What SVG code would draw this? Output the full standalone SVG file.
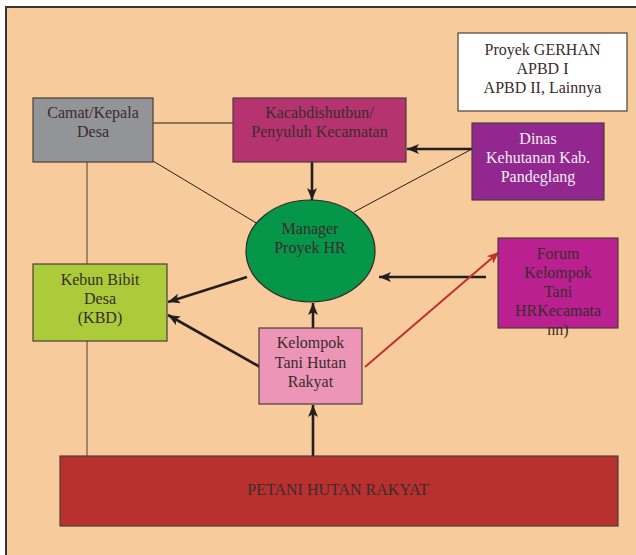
<svg xmlns="http://www.w3.org/2000/svg" width="636" height="555" viewBox="0 0 636 555">
<defs>
<marker id="ah" markerUnits="userSpaceOnUse" markerWidth="13" markerHeight="10" refX="12" refY="5" orient="auto">
<path d="M0,0 L12,5 L0,10 L3,5 z" fill="#231f20"/>
</marker>
<marker id="ahr" markerUnits="userSpaceOnUse" markerWidth="13" markerHeight="10" refX="12" refY="5" orient="auto">
<path d="M0,0 L12,5 L0,10 L3,5 z" fill="#c0302e"/>
</marker>
<style>
.box{stroke:#4a3f3a;stroke-width:1.2}
text{font-family:"Liberation Serif","Times New Roman",serif;font-size:16px;fill:#3a2c2c;text-anchor:middle}
.w{fill:#f4ecf3}
.thin{stroke:#231f20;stroke-width:1;fill:none}
.brown{stroke:#8a6f55;stroke-width:1.5;fill:none}
.thick{stroke:#231f20;stroke-width:2.6;fill:none;marker-end:url(#ah)}
.red{stroke:#c0302e;stroke-width:2;fill:none;marker-end:url(#ahr)}
</style>
</defs>
<rect x="0" y="0" width="636" height="555" fill="#ffffff"/>
<rect x="6" y="7" width="632" height="550" fill="#f8cb9c"/>
<path d="M6,555 L6,7 L636,7" fill="none" stroke="#3a3533" stroke-width="2"/>

<g id="connectors">
<line class="thin" x1="153" y1="123" x2="233" y2="123"/>
<line class="brown" x1="87" y1="162" x2="87" y2="264"/>
<line class="brown" x1="87" y1="341" x2="87" y2="456"/>
<line class="thin" x1="153" y1="161" x2="258" y2="224"/>
<line class="thin" x1="472" y1="149" x2="354" y2="212"/>
<line class="thick" x1="312" y1="162" x2="312" y2="200"/>
<line class="thick" x1="472" y1="149" x2="407" y2="149"/>
<line class="thick" x1="486" y1="277" x2="379" y2="277"/>
<line class="thick" x1="247" y1="277" x2="168" y2="302"/>
<line class="thick" x1="260" y1="367" x2="168" y2="315"/>
<line class="thick" x1="313" y1="328" x2="313" y2="303"/>
<line class="thick" x1="313" y1="456" x2="313" y2="405"/>
<line class="red" x1="365" y1="367" x2="499" y2="252"/>
</g>

<g id="gerhan">
<rect class="box" x="458" y="33" width="169" height="78" fill="#ffffff"/>
<text x="542.5" y="55">Proyek GERHAN</text>
<text x="542.5" y="74">APBD I</text>
<text x="542.5" y="93">APBD II, Lainnya</text>
</g>

<g id="camat">
<rect class="box" x="33" y="98" width="120" height="64" fill="#929497"/>
<text x="93" y="118">Camat/Kepala</text>
<text x="93" y="137">Desa</text>
</g>

<g id="kacab">
<rect class="box" x="233" y="98" width="173" height="64" fill="#b5346f"/>
<text x="319.5" y="118">Kacabdishutbun/</text>
<text x="319.5" y="137">Penyuluh Kecamatan</text>
</g>

<g id="dinas">
<rect class="box" x="472" y="123" width="132" height="77" fill="#92278f"/>
<text class="w" x="538" y="144">Dinas</text>
<text class="w" x="538" y="163">Kehutanan Kab.</text>
<text class="w" x="538" y="182">Pandeglang</text>
</g>

<g id="manager">
<ellipse cx="310.5" cy="251" rx="64.5" ry="51" fill="#05964a" stroke="#2e2a28" stroke-width="1.2"/>
<text x="310" y="234">Manager</text>
<text x="310" y="253">Proyek HR</text>
</g>

<g id="forum">
<rect class="box" x="498" y="238" width="120" height="90" fill="#bb2090"/>
<text x="558" y="259">Forum</text>
<text x="558" y="278">Kelompok</text>
<text x="558" y="297">Tani</text>
<text x="558" y="316">HRKecamata</text>
<text x="558" y="335">nn)</text>
</g>

<g id="kebun">
<rect class="box" x="33" y="264" width="134" height="77" fill="#abcb3a"/>
<text x="100" y="285">Kebun Bibit</text>
<text x="100" y="304">Desa</text>
<text x="100" y="323">(KBD)</text>
</g>

<g id="kelompok">
<rect class="box" x="259" y="328" width="103" height="76" fill="#ec95b6"/>
<text x="310.5" y="348">Kelompok</text>
<text x="310.5" y="368">Tani Hutan</text>
<text x="310.5" y="387">Rakyat</text>
</g>

<g id="petani">
<rect class="box" x="60" y="456" width="558" height="70" fill="#b8312f"/>
<text x="338" y="495">PETANI HUTAN RAKYAT</text>
</g>
</svg>
